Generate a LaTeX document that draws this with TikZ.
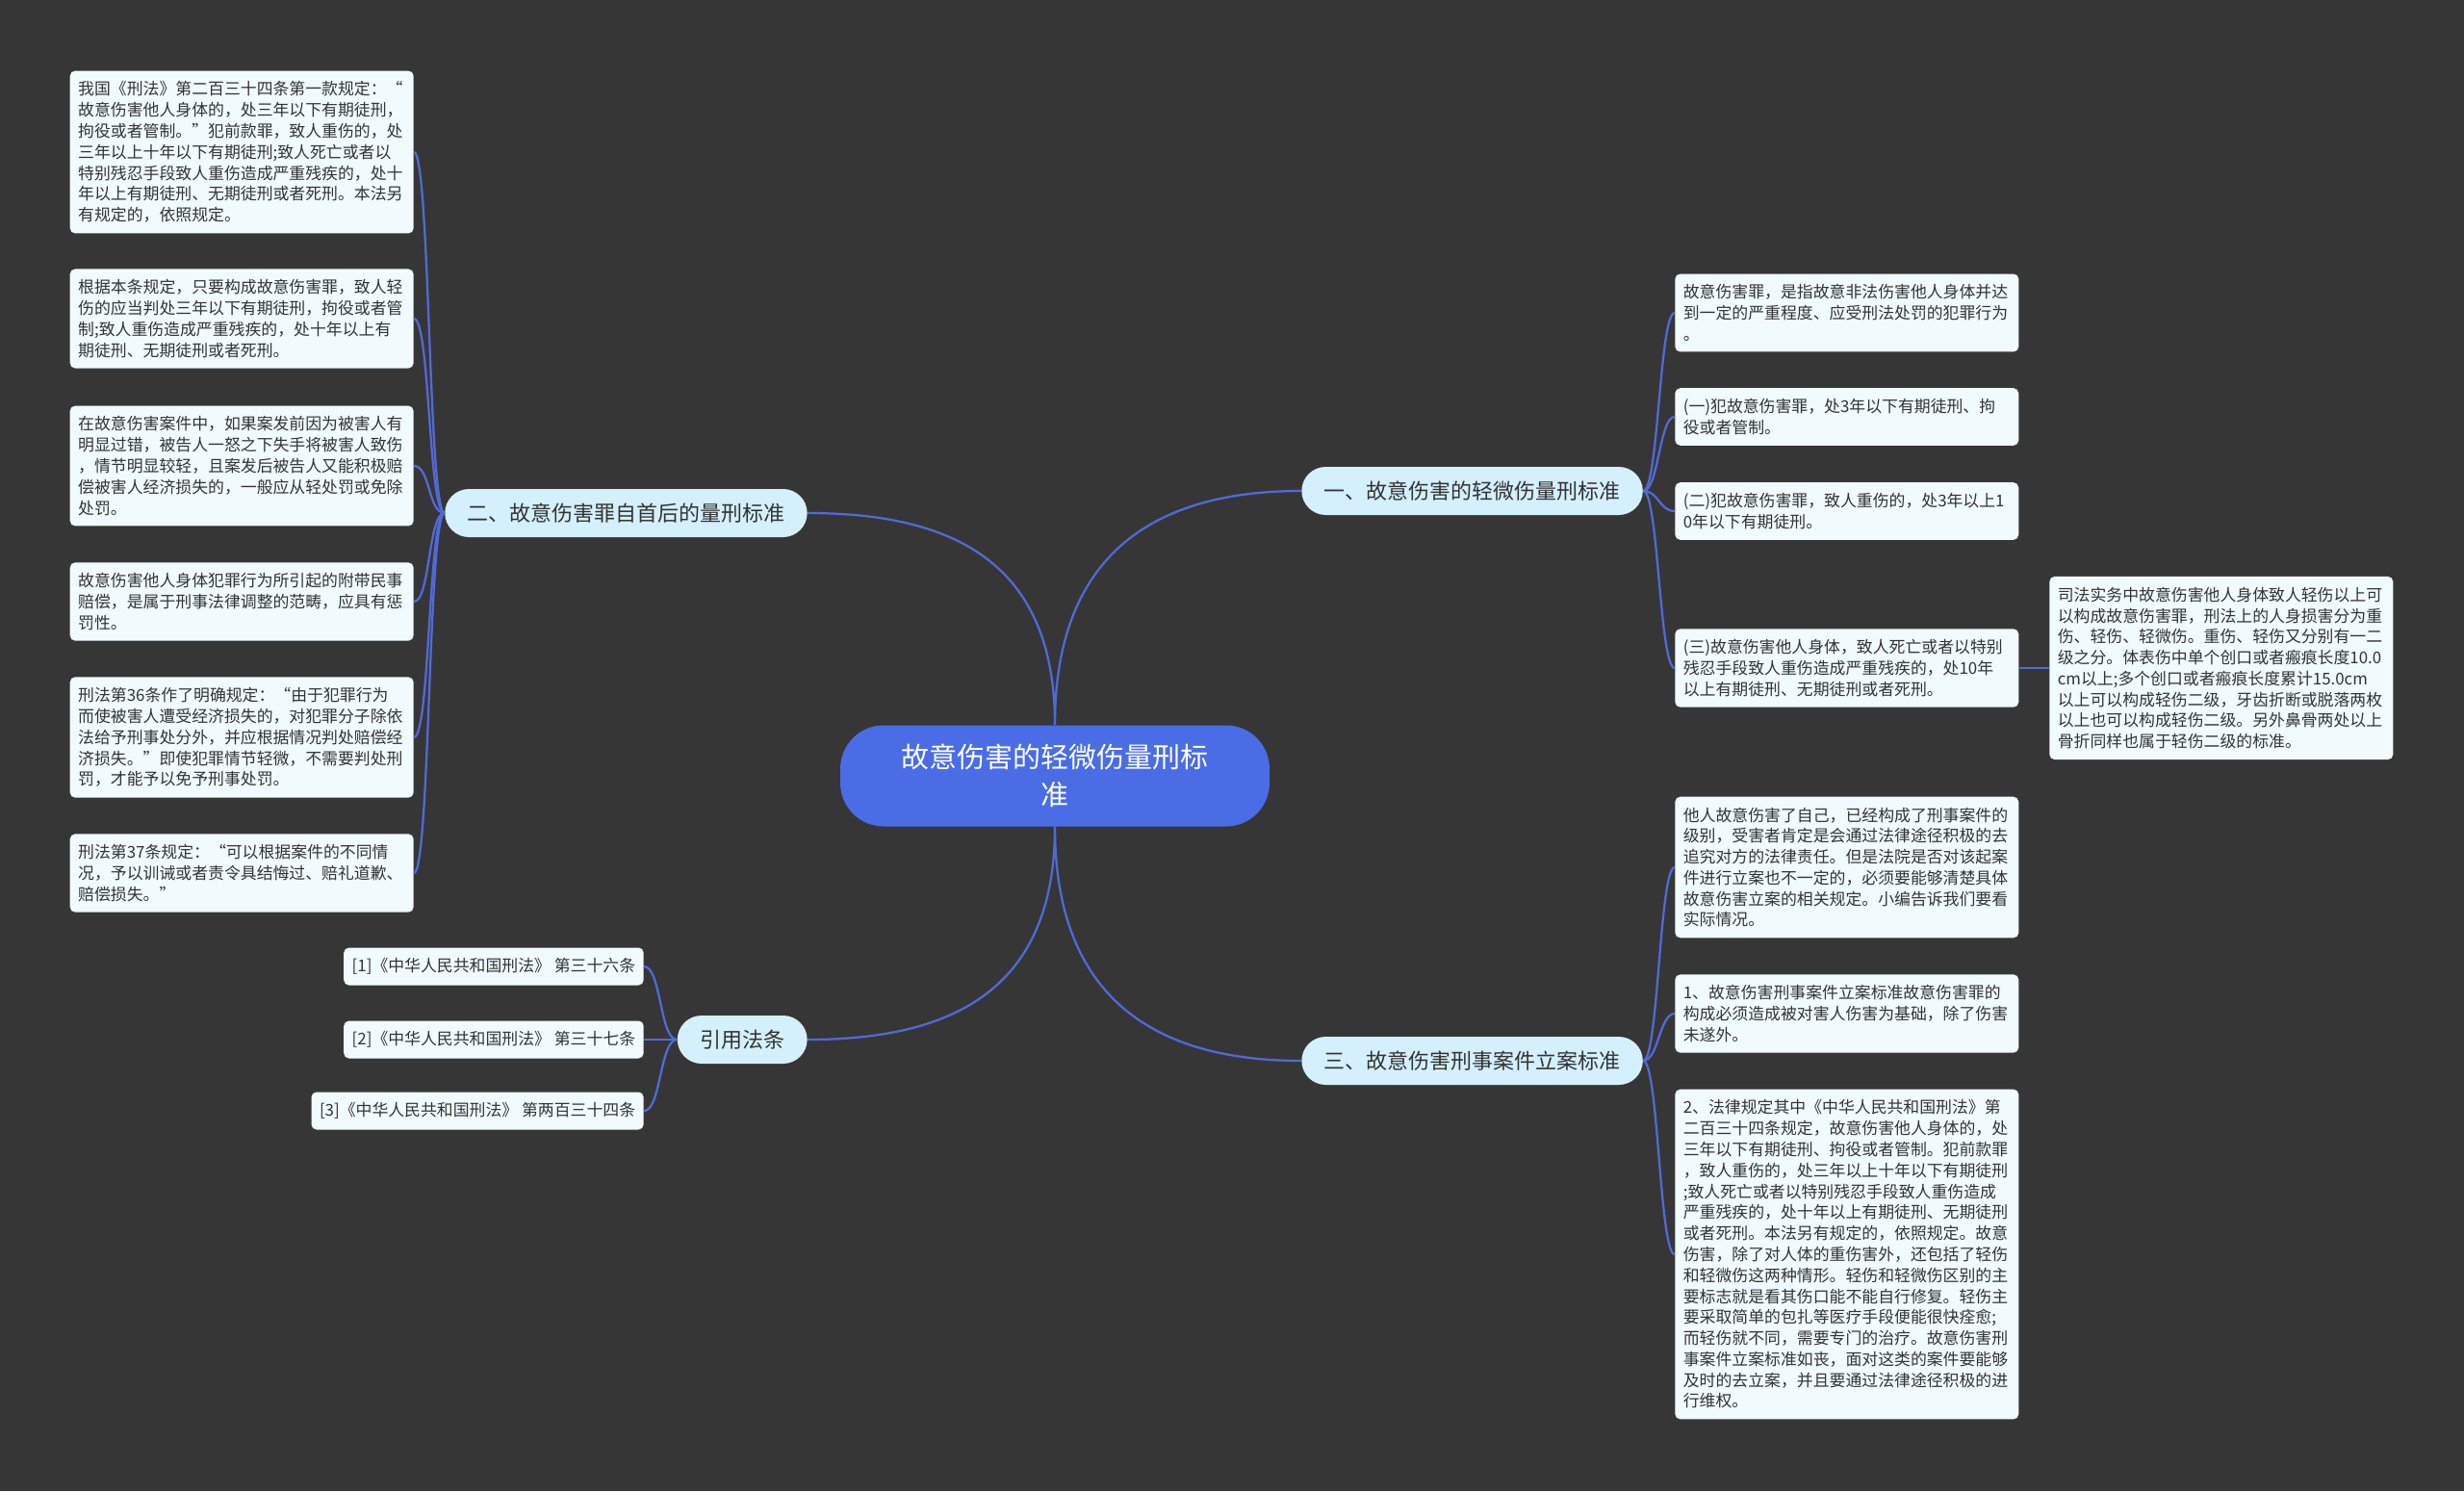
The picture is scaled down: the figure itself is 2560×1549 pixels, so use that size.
\documentclass[tikz,border=0pt]{standalone}
\usepackage{fontspec}
\setmainfont{Noto Sans CJK SC}
\usepackage{tikz}
\definecolor{cBg}  {HTML}{363636}
\definecolor{cRoot}{HTML}{4A6DE5}
\definecolor{cMain}{HTML}{D3F0FC}
\definecolor{cLeaf}{HTML}{F1FAFD}
\definecolor{cLine}{HTML}{5269D6}
\definecolor{cText}{HTML}{333333}

\begin{document}
\begin{tikzpicture}[x=0.02cm, y=-0.02cm,
      root/.style = {fill=cRoot, rounded corners=0.9cm, text=white, font=\fontsize{16.5pt}{22pt}\selectfont, text width=7.2cm, align=center, minimum width=8.92cm, minimum height=2.1cm},
      main/.style = {fill=cMain, rounded corners=0.5cm, text=cText, font=\fontsize{12.5pt}{15pt}\selectfont, inner xsep=0.47cm, minimum height=1cm},
      leaf/.style = {fill=cLeaf, rounded corners=3pt, text=cText, font=\fontsize{9.6pt}{12.4pt}\selectfont, text width=6.8cm, inner xsep=0.17cm, inner ysep=0.22cm, align=left},
      cite/.style = {fill=cLeaf, rounded corners=3pt, text=cText, font=\fontsize{9.6pt}{12.4pt}\selectfont, inner xsep=0.17cm, minimum height=0.78cm},
      link/.style = {draw=cLine, line width=1.3pt} ]
    \useasboundingbox (0,0) rectangle (2560,1549);
    \fill[cBg] (0,0) rectangle (2560,1549);

    % centre and main branches
    \node[root] (c) at (1096,806) {故意伤害的轻微伤量刑标\\准};
    \node[main, anchor=west] (b1) at (1352,510)  {一、故意伤害的轻微伤量刑标准};
    \node[main, anchor=east] (b2) at (839,533)   {二、故意伤害罪自首后的量刑标准};
    \node[main, anchor=west] (b3) at (1352,1102) {三、故意伤害刑事案件立案标准};
    \node[main, anchor=east] (b4) at (839,1080)  {引用法条};

    \draw[link] (c.north) .. controls +(0,-180) and +(-150,0) .. (b1.west);
    \draw[link] (c.north) .. controls +(0,-170) and +(150,0) .. (b2.east);
    \draw[link] (c.south) .. controls +(0,180) and +(-150,0) .. (b3.west);
    \draw[link] (c.south) .. controls +(0,170) and +(150,0) .. (b4.east);

    % left leaves
    \node[leaf, anchor=east] (l1) at (430,158) {我国《刑法》第二百三十四条第一款规定：“\\故意伤害他人身体的，处三年以下有期徒刑，\\拘役或者管制。”犯前款罪，致人重伤的，处\\三年以上十年以下有期徒刑;致人死亡或者以\\特别残忍手段致人重伤造成严重残疾的，处十\\年以上有期徒刑、无期徒刑或者死刑。本法另\\有规定的，依照规定。};
    \node[leaf, anchor=east] (l2) at (430,331) {根据本条规定，只要构成故意伤害罪，致人轻\\伤的应当判处三年以下有期徒刑，拘役或者管\\制;致人重伤造成严重残疾的，处十年以上有\\期徒刑、无期徒刑或者死刑。};
    \node[leaf, anchor=east] (l3) at (430,484) {在故意伤害案件中，如果案发前因为被害人有\\明显过错，被告人一怒之下失手将被害人致伤\\，情节明显较轻，且案发后被告人又能积极赔\\偿被害人经济损失的，一般应从轻处罚或免除\\处罚。};
    \node[leaf, anchor=east] (l4) at (430,625) {故意伤害他人身体犯罪行为所引起的附带民事\\赔偿，是属于刑事法律调整的范畴，应具有惩\\罚性。};
    \node[leaf, anchor=east] (l5) at (430,766) {刑法第36条作了明确规定：“由于犯罪行为\\而使被害人遭受经济损失的，对犯罪分子除依\\法给予刑事处分外，并应根据情况判处赔偿经\\济损失。”即使犯罪情节轻微，不需要判处刑\\罚，才能予以免予刑事处罚。};
    \node[leaf, anchor=east] (l6) at (430,907) {刑法第37条规定：“可以根据案件的不同情\\况，予以训诫或者责令具结悔过、赔礼道歉、\\赔偿损失。”};
    \foreach \n in {l1,l2,l3,l4,l5,l6}
      \draw[link] (b2.west) .. controls +(-17,0) and +(17,0) .. (\n.east);

    % cited articles
    \node[cite, anchor=east] (q1) at (669,1004) {[1]《中华人民共和国刑法》 第三十六条};
    \node[cite, anchor=east] (q2) at (669,1080) {[2]《中华人民共和国刑法》 第三十七条};
    \node[cite, anchor=east] (q3) at (669,1154) {[3]《中华人民共和国刑法》 第两百三十四条};
    \foreach \n in {q1,q2,q3}
      \draw[link] (b4.west) .. controls +(-18,0) and +(18,0) .. (\n.east);

    % right leaves
    \node[leaf, anchor=west] (r1) at (1740,325) {故意伤害罪，是指故意非法伤害他人身体并达\\到一定的严重程度、应受刑法处罚的犯罪行为\\。};
    \node[leaf, anchor=west] (r2) at (1740,433) {(一)犯故意伤害罪，处3年以下有期徒刑、拘\\役或者管制。};
    \node[leaf, anchor=west] (r3) at (1740,531) {(二)犯故意伤害罪，致人重伤的，处3年以上1\\0年以下有期徒刑。};
    \node[leaf, anchor=west] (r4) at (1740,694) {(三)故意伤害他人身体，致人死亡或者以特别\\残忍手段致人重伤造成严重残疾的，处10年\\以上有期徒刑、无期徒刑或者死刑。};
    \node[leaf, anchor=west] (fr) at (2129,694) {司法实务中故意伤害他人身体致人轻伤以上可\\以构成故意伤害罪，刑法上的人身损害分为重\\伤、轻伤、轻微伤。重伤、轻伤又分别有一二\\级之分。体表伤中单个创口或者瘢痕长度10.0\\cm以上;多个创口或者瘢痕长度累计15.0cm\\以上可以构成轻伤二级，牙齿折断或脱落两枚\\以上也可以构成轻伤二级。另外鼻骨两处以上\\骨折同样也属于轻伤二级的标准。};
    \foreach \n in {r1,r2,r3,r4}
      \draw[link] (b1.east) .. controls +(16,0) and +(-16,0) .. (\n.west);
    \draw[link] (r4.east) -- (fr.west);

    \node[leaf, anchor=west] (r5) at (1740,901) {他人故意伤害了自己，已经构成了刑事案件的\\级别，受害者肯定是会通过法律途径积极的去\\追究对方的法律责任。但是法院是否对该起案\\件进行立案也不一定的，必须要能够清楚具体\\故意伤害立案的相关规定。小编告诉我们要看\\实际情况。};
    \node[leaf, anchor=west] (r6) at (1740,1053) {1、故意伤害刑事案件立案标准故意伤害罪的\\构成必须造成被对害人伤害为基础，除了伤害\\未遂外。};
    \node[leaf, anchor=west] (r7) at (1740,1303) {2、法律规定其中《中华人民共和国刑法》第\\二百三十四条规定，故意伤害他人身体的，处\\三年以下有期徒刑、拘役或者管制。犯前款罪\\，致人重伤的，处三年以上十年以下有期徒刑\\;致人死亡或者以特别残忍手段致人重伤造成\\严重残疾的，处十年以上有期徒刑、无期徒刑\\或者死刑。本法另有规定的，依照规定。故意\\伤害，除了对人体的重伤害外，还包括了轻伤\\和轻微伤这两种情形。轻伤和轻微伤区别的主\\要标志就是看其伤口能不能自行修复。轻伤主\\要采取简单的包扎等医疗手段便能很快痊愈;\\而轻伤就不同，需要专门的治疗。故意伤害刑\\事案件立案标准如丧，面对这类的案件要能够\\及时的去立案，并且要通过法律途径积极的进\\行维权。};
    \foreach \n in {r5,r6,r7}
      \draw[link] (b3.east) .. controls +(16,0) and +(-16,0) .. (\n.west);
  \end{tikzpicture}
\end{document}
